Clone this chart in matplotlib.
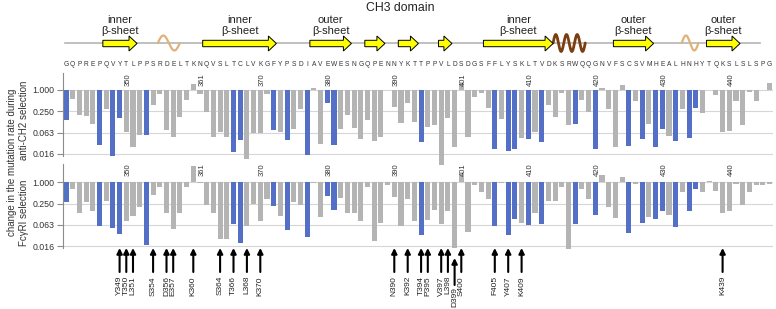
import numpy as np
import matplotlib
matplotlib.use('Agg')
import matplotlib.pyplot as plt
from matplotlib.patches import Polygon

plt.rcParams['font.family'] = ['Liberation Sans', 'DejaVu Sans']

# ---------------- data ----------------
sequence = ("GQPREPQVYTLPPSRDELTKNQVSLTCLVKGFYPSDIAVEWESNGQPENN"
            "YKTTPPVLDSDGSFFLYSKLTVDKSRWQQGNVFSCSVMHEALHNHYTQKSLSLSPG")
residues = np.arange(341, 341 + len(sequence))

anti_ch2 = [0.14, 0.535, 0.2, 0.18, 0.105, 0.027, 0.28, 0.014, 0.155, 0.063,
            0.025, 0.054, 0.054, 0.37, 0.76, 0.073, 0.047, 0.17, 0.51, 1.45,
            0.74, 0.23, 0.047, 0.063, 0.047, 0.018, 0.038, 0.011, 0.06, 0.061,
            0.76, 0.073, 0.065, 0.038, 0.08, 0.28, 0.015, 1.1, 0.03, 0.43,
            0.027, 0.079, 0.2, 0.086, 0.04, 0.14, 0.037, 0.047, 0.98, 0.32,
            0.117, 0.41, 0.125, 0.033, 0.09, 0.1, 0.0076, 0.155, 0.025, 1.45,
            0.047, 0.63, 0.79, 0.3, 0.022, 0.146, 0.019, 0.022, 0.045, 0.04,
            0.065, 0.034, 0.37, 0.17, 0.82, 0.1, 0.107, 0.51, 0.23, 0.022,
            1.1, 0.28, 0.024, 1.38, 0.026, 0.49, 0.042, 0.105, 0.025, 0.08,
            0.05, 0.037, 0.28, 0.045, 0.3, 0.215, 1.0, 0.71, 0.065, 0.07,
            0.49, 0.1, 0.84, 0.47, 1.0, 1.5]

fcgri = [0.27, 0.63, 0.14, 0.28, 0.15, 0.06, 0.3, 0.05, 0.035, 0.08,
         0.112, 0.2, 0.017, 0.44, 0.72, 0.133, 0.047, 0.14, 0.76, 2.8,
         0.93, 0.23, 0.14, 0.025, 0.025, 0.065, 0.019, 0.058, 0.24, 0.08,
         0.33, 0.215, 0.115, 0.045, 0.27, 0.23, 0.028, 0.98, 0.107, 0.42,
         0.165, 0.35, 0.14, 0.14, 0.08, 0.72, 0.022, 0.073, 0.84, 0.38,
         0.06, 0.33, 0.08, 0.033, 0.086, 0.16, 0.065, 0.155, 0.014, 1.58,
         0.04, 0.86, 0.53, 0.33, 0.06, 0.98, 0.033, 0.094, 0.073, 0.0625,
         0.14, 0.067, 0.29, 0.3, 0.72, 0.013, 0.065, 0.63, 0.34, 0.12,
         1.6, 0.2, 0.1, 1.38, 0.038, 0.88, 0.07, 0.107, 0.09, 0.15,
         0.12, 0.054, 0.54, 0.15, 0.63, 0.52, 1.08, 0.58, 0.14, 0.155,
         0.9, 0.23, 0.52, 0.86, 0.84, 0.9]

blue_residues = [341, 346, 348, 349, 353, 366, 367, 372, 374, 377, 380, 381,
                 394, 405, 407, 408, 410, 412, 417, 420, 425, 427, 429, 430,
                 432, 434, 435]

tick_residues = [350, 361, 370, 380, 390, 400, 410, 420, 430, 440]
tick_labels = ['350', '361', '370', '380', '390', '401', '410', '420', '430', '440']

y_ticks = [1.0, 0.25, 0.0625, 0.015625]
y_ticklabels = ['1.000', '0.250', '0.063', '0.016']

arrow_residues = [349, 350, 351, 354, 356, 357, 360, 364, 366, 368, 370,
                  390, 392, 394, 395, 397, 398, 399, 400, 405, 407, 409, 439]
arrow_labels = ['Y349', 'T350', 'L351', 'S354', 'D356', 'E357', 'K360', 'S364',
                'T366', 'L368', 'K370', 'N390', 'K392', 'T394', 'P395', 'V397',
                'L398', 'D399', 'S400', 'F405', 'Y407', 'K409', 'K439']

# secondary structure (residue ranges)
strands = [(346.5, 351.6, 'inner\nβ-sheet'), (361.4, 372.4, 'inner\nβ-sheet'),
           (377.4, 383.6, 'outer\nβ-sheet'), (385.6, 388.6, None),
           (390.6, 393.6, None), (396.6, 398.6, None),
           (403.3, 413.7, 'inner\nβ-sheet'), (422.7, 428.7, 'outer\nβ-sheet'),
           (436.6, 441.6, 'outer\nβ-sheet')]
helices = [(354.7, 358.0, 1, '#e0b27a', 1.6, 7.5),
           (413.7, 418.5, 3, '#7a3e10', 2.0, 8.5),
           (432.9, 435.4, 1, '#e0b27a', 1.6, 7.5)]

# ---------------- geometry ----------------
W, H = 776, 309
PX0, DPX = 66.0, 6.7          # pixel of first residue, pixels per residue


def px2res(px):
    return residues[0] + (px - PX0) / DPX


fig = plt.figure(figsize=(W / 100, H / 100), dpi=100)

BLUE = '#5470c6'
GRAY = '#b4b4b4'
colors = [BLUE if r in blue_residues else GRAY for r in residues]


def bar_axes(top_px, bot_px, one_px, step, spine_px):
    ax = fig.add_axes([63 / W, 1 - bot_px / H, 710 / W, (bot_px - top_px) / H])
    ax.patch.set_visible(False)
    ax.set_yscale('log', base=4)
    ax.set_xlim(px2res(63), px2res(773))
    lo = 4 ** (-(bot_px - one_px) / step)
    hi = 4 ** ((one_px - top_px) / step)
    ax.set_ylim(lo, hi)
    for s in ['top', 'right', 'bottom']:
        ax.spines[s].set_visible(False)
    ax.spines['left'].set_color('#8c8c8c')
    ax.spines['left'].set_linewidth(0.8)
    sb = [4 ** ((one_px - p) / step) for p in spine_px]
    ax.spines['left'].set_bounds(min(sb), max(sb))
    ax.set_yticks(y_ticks)
    ax.set_yticklabels(y_ticklabels)
    ax.yaxis.set_minor_locator(matplotlib.ticker.NullLocator())
    ax.tick_params(axis='y', length=4, width=0.8, color='#8c8c8c', pad=2,
                   labelsize=6.3, labelcolor='#333333')
    ax.set_xticks([])
    for v in y_ticks:
        ax.axhline(v, color='#d6d6d6', lw=0.8, zorder=0)
    return ax


ax1 = bar_axes(70, 170, 89.7, 21.4, (73, 156))
ax2 = bar_axes(160, 260, 182.3, 21.3, (164, 248))

for ax, vals in ((ax1, anti_ch2), (ax2, fcgri)):
    vals = np.asarray(vals)
    ax.bar(residues, vals - 1.0, bottom=1.0, width=0.75, color=colors,
           zorder=2, clip_on=False)

# overlay axes in (residue, pixel) coordinates
ov = fig.add_axes([0, 0, 1, 1])
ov.patch.set_visible(False)
ov.set_xlim(px2res(0), px2res(W))
ov.set_ylim(H, 0)
ov.axis('off')

# tick labels of residue numbers
for r, lab in zip(tick_residues, tick_labels):
    for ypx in (80, 170):
        ov.text(r + 0.35, ypx, lab, rotation=90, ha='center', va='center',
                fontsize=5.5, color='#333333')

# sequence
for r, aa in zip(residues, sequence):
    ov.text(r, 65, aa, ha='center', va='center', fontsize=4.8, color='#333333')

# backbone
ov.plot([px2res(65), px2res(760)], [43, 43], color='#b5b5b5', lw=1.2, zorder=1)

# helices
for x0, x1, nper, col, lw, amp in helices:
    t = np.linspace(0, 1, 200)
    ov.plot(x0 + (x1 - x0) * t, 43 - amp * np.sin(2 * np.pi * nper * t),
            color=col, lw=lw, zorder=3, solid_capstyle='round')

# strands
hl = 8 / DPX
for x0, x1, lab in strands:
    yc = 43.5
    xh = x1 - hl
    verts = [(x0, yc - 3.2), (xh, yc - 3.2), (xh, yc - 7.5), (x1, yc),
             (xh, yc + 7.5), (xh, yc + 3.2), (x0, yc + 3.2)]
    ov.add_patch(Polygon(verts, closed=True, facecolor='#ffff00',
                         edgecolor='black', lw=0.7, zorder=4))
    if lab:
        ov.text((x0 + x1) / 2, 25.5, lab, ha='center', va='center',
                fontsize=8, linespacing=1.05, color='#222222')

# mutation arrows
for r, lab in zip(arrow_residues, arrow_labels):
    if lab == 'D399':
        y_tail, y_tip, y_txt = 285, 258, 287
    else:
        y_tail, y_tip, y_txt = 272, 248, 276
    ov.annotate('', xy=(r, y_tip), xytext=(r, y_tail),
                arrowprops=dict(arrowstyle='-|>', lw=1.5, color='black',
                                mutation_scale=8, shrinkA=0, shrinkB=0))
    ov.text(r, y_txt, lab, rotation=90, ha='center', va='top', fontsize=6.0,
            color='#222222')

# titles and axis labels
fig.text(400 / W, 1 - 8 / H, 'CH3 domain', ha='center', va='center',
         fontsize=8.8, color='#222222')
fig.text(12 / W, 1 - 162 / H, 'change in the mutation rate during', rotation=90,
         ha='center', va='center', fontsize=7, color='#333333')
fig.text(24 / W, 1 - 120 / H, 'anti-CH2 selection', rotation=90,
         ha='center', va='center', fontsize=7, color='#333333')
fig.text(24 / W, 1 - 213 / H, 'FcγRI selection', rotation=90,
         ha='center', va='center', fontsize=7, color='#333333')

fig.savefig('out.png', dpi=100)
